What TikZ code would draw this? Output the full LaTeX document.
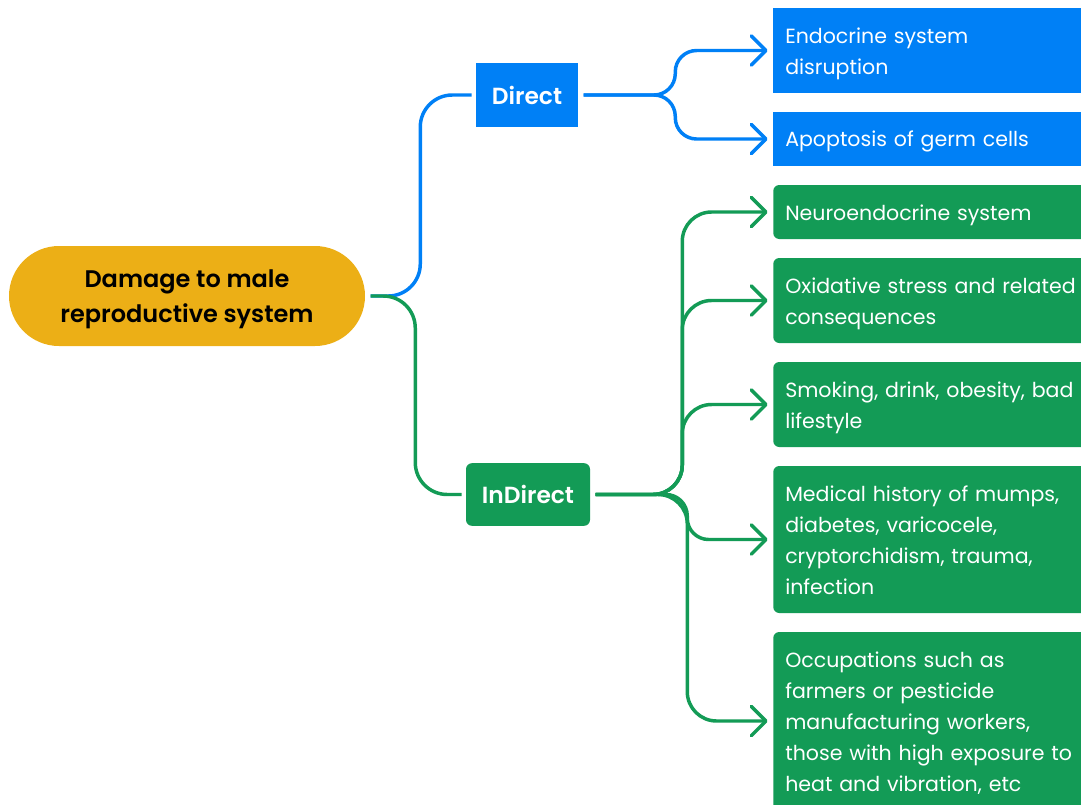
\documentclass[tikz,border=0pt]{standalone}
\usepackage{fontspec}
\setmainfont{Poppins}[BoldFont={Poppins SemiBold}]
\usetikzlibrary{arrows.meta}
\definecolor{dirblue}{RGB}{0,128,246}
\definecolor{indgreen}{RGB}{19,155,86}
\definecolor{rootyellow}{RGB}{236,175,22}
\newcommand{\leafstrut}{\rule[-4pt]{0pt}{20pt}}
\newcommand{\rootstrut}{\rule[-4.75pt]{0pt}{22.25pt}}

\begin{document}
\begin{tikzpicture}[x=0.75pt,y=-0.75pt,
  leaf/.style={rectangle,anchor=west,text=white,text width=237pt,inner xsep=9pt,inner ysep=0pt,align=left,font=\fontsize{15.4}{23.25}\selectfont,execute at begin node=\leafstrut,execute at end node=\leafstrut},
  blueleaf/.style={leaf,fill=dirblue},
  greenleaf/.style={leaf,fill=indgreen,rounded corners=4.5pt},
  mid/.style={rectangle,text=white,font=\bfseries\fontsize{17.5}{21}\selectfont},
  link/.style={line width=2.6pt,rounded corners=16pt,shorten <=4pt},
  tip/.style={-{Straight Barb[length=11pt,width=22pt,round]},shorten >=4pt}]

\useasboundingbox (0,0) rectangle (1081,804);
\clip (0,0) rectangle (1081,804);

\node[fill=rootyellow,rounded corners=37.5pt,minimum width=267pt,minimum height=75pt,inner ysep=0pt,align=center,font=\bfseries\fontsize{18}{26.25}\selectfont] (0) at (187,296) {\rootstrut Damage to male\\reproductive system\rootstrut};

\node[mid,fill=dirblue,minimum width=76.5pt,minimum height=48pt] (1) at (527,95) {Direct};

\node[mid,fill=indgreen,rounded corners=4.5pt,minimum width=93pt,minimum height=47pt] (2) at (528,494.5) {InDirect};

\node[blueleaf,minimum height=63.75pt] (3) at (773,50.5) {Endocrine system\\disruption};
\node[blueleaf,minimum height=40.5pt] (4) at (773,139) {Apoptosis of germ cells};

\node[greenleaf,minimum height=40.5pt] (5) at (773,212) {Neuroendocrine system};
\node[greenleaf,minimum height=63.75pt] (6) at (773,300.5) {Oxidative stress and related\\consequences};
\node[greenleaf,minimum height=63.75pt] (7) at (773,404.5) {Smoking, drink, obesity, bad\\lifestyle};
\node[greenleaf,minimum height=110.25pt] (8) at (773,539.5) {Medical history of mumps,\\diabetes, varicocele,\\cryptorchidism, trauma,\\infection};
\node[greenleaf,minimum height=133.5pt] (9) at (773,721) {Occupations such as\\farmers or pesticide\\manufacturing workers,\\those with high exposure to\\heat and vibration, etc};

\draw[link,dirblue,rounded corners=24pt,shorten >=3pt] (0.east) -- ++(55,0) |- (1.west);
\draw[link,indgreen,rounded corners=24pt,shorten >=3pt] (0.east) -- ++(50,0) |- (2.west);

\draw[link,tip,dirblue] (1.east) -- ++(97,0) |- (3.west);
\draw[link,tip,dirblue] (1.east) -- ++(97,0) |- (4.west);

\draw[link,tip,indgreen,rounded corners=22pt] (2.east) -- ++(92,0) |- (5.west);
\draw[link,tip,indgreen,rounded corners=22pt] (2.east) -- ++(92,0) |- (6.west);
\draw[link,tip,indgreen,rounded corners=22pt] (2.east) -- ++(92,0) |- (7.west);
\draw[link,tip,indgreen] (2.east) -- ++(97,0) |- (8.west);
\draw[link,tip,indgreen,rounded corners=22pt] (2.east) -- ++(97,0) |- (9.west);

\end{tikzpicture}
\end{document}
